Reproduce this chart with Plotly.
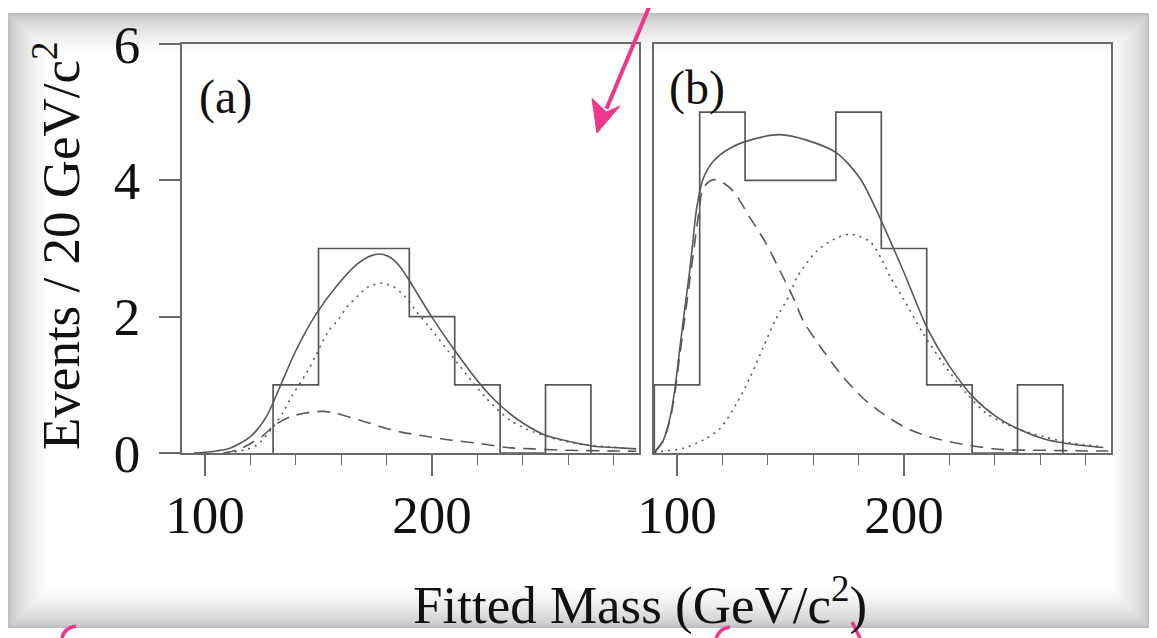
import plotly.graph_objects as go

# page is 1157x638; the html body has an 8px margin, so the figure is 8px smaller and
# every page-pixel position is shifted by that margin.
OFF = 8
W, H = 1157 - OFF, 638 - OFF

# ---------------- data ----------------
# histogram (a)
a_edges = [130, 150, 170, 190, 210, 230, 250, 270]
a_counts = [1, 3, 3, 2, 1, 0, 1]
# histogram (b)
b_edges = [90, 110, 130, 150, 170, 190, 210, 230, 250, 270]
b_counts = [1, 5, 4, 4, 5, 3, 1, 0, 1]

# fitted curves (a)
a_total_x = [95, 100, 105, 111, 120, 127, 133, 140, 149, 158, 167, 172, 177, 182, 186, 190, 200, 211, 221, 230, 240, 250, 261, 271, 280, 290]
a_total_y = [0.0, 0.01, 0.03, 0.07, 0.24, 0.53, 0.97, 1.50, 2.04, 2.45, 2.77, 2.88, 2.92, 2.86, 2.73, 2.53, 1.99, 1.46, 1.02, 0.70, 0.44, 0.26, 0.165, 0.10, 0.08, 0.06]
a_sig_x = [110, 118, 123, 130, 134.5, 138, 145, 148.5, 154, 159, 162.5, 167.5, 172, 178, 183, 188, 193, 199, 207, 215, 224, 234.4, 244.6, 256.4, 268, 286]
a_sig_y = [0.0, 0.05, 0.12, 0.38, 0.60, 0.82, 1.19, 1.41, 1.77, 1.97, 2.14, 2.31, 2.44, 2.49, 2.44, 2.30, 2.08, 1.84, 1.50, 1.16, 0.80, 0.48, 0.31, 0.19, 0.12, 0.07]
a_bkg_x = [108, 115, 120, 125.7, 130.8, 137.4, 144.8, 152, 158, 168.3, 177, 186, 194.7, 208, 221, 233, 244.5, 259, 281, 290]
a_bkg_y = [0.0, 0.05, 0.14, 0.26, 0.41, 0.53, 0.59, 0.61, 0.58, 0.48, 0.39, 0.31, 0.26, 0.19, 0.14, 0.08, 0.06, 0.04, 0.03, 0.025]

# fitted curves (b)
b_total_x = [90.3, 94, 97, 99, 101.3, 103.5, 105.5, 107, 108.7, 111.6, 116, 123.3, 132.2, 145.4, 157.1, 170.4, 180.6, 189.4, 199.7, 210.7, 220.3, 230.5, 240.8, 251.1, 261.4, 271.7, 287.8]
b_total_y = [0.02, 0.19, 0.53, 0.92, 1.55, 2.14, 2.65, 3.10, 3.60, 4.03, 4.28, 4.47, 4.59, 4.67, 4.59, 4.40, 4.03, 3.45, 2.67, 1.80, 1.26, 0.82, 0.53, 0.34, 0.21, 0.14, 0.08]
b_bkg_x = [90.3, 94, 97, 99, 101.3, 103.5, 105.5, 107.5, 109.5, 111.6, 116, 120, 124.8, 132.2, 139.5, 145.4, 151.2, 155.6, 164.4, 173.3, 182.1, 190.5, 202.6, 214.4, 229, 243.6, 261, 280.6, 290]
b_bkg_y = [0.02, 0.18, 0.50, 0.86, 1.45, 2.0, 2.5, 3.0, 3.5, 3.89, 4.01, 3.97, 3.84, 3.45, 3.06, 2.67, 2.28, 1.94, 1.50, 1.11, 0.80, 0.58, 0.34, 0.21, 0.11, 0.05, 0.04, 0.03, 0.03]
b_sig_x = [90, 92.5, 102.8, 111.6, 119, 126.3, 132.2, 138, 143.2, 149.8, 152.7, 161.5, 168.9, 176.2, 185, 190, 194, 199.7, 208.5, 217.3, 227.6, 236.4, 248.1, 261.4, 273.1, 287.8]
b_sig_y = [0.01, 0.02, 0.07, 0.19, 0.36, 0.73, 1.11, 1.55, 1.94, 2.33, 2.57, 2.96, 3.13, 3.21, 3.10, 2.85, 2.58, 2.26, 1.75, 1.31, 0.87, 0.58, 0.38, 0.24, 0.15, 0.09]

x_tick_vals = [100, 200]
x_tick_text = ["100", "200"]
y_tick_vals = [0, 2, 4, 6]
y_tick_text = ["0", "2", "4", "6"]
panel_labels = ["(a)", "(b)"]
x_title = "Fitted Mass (GeV/c<sup>2</sup>)"
y_title = "Events / 20 GeV/c<sup>2</sup>"

# ---------------- style ----------------
FONT = "Liberation Serif"
LINE = "#585858"
AXC = "#6a6a6a"
FS = 53


def px_x(p):
    return (p - OFF) / W


def px_y(p):
    return 1 - (p - OFF) / H


def step_xy(edges, counts):
    xs = [edges[0]] + list(edges)
    ys = [0] + list(counts) + [0]
    return xs, ys


fig = go.Figure()

for (edges, counts, xa, ya) in [(a_edges, a_counts, "x", "y"), (b_edges, b_counts, "x2", "y2")]:
    hx, hy = step_xy(edges, counts)
    fig.add_trace(go.Scatter(x=hx, y=hy, mode="lines", line=dict(color=LINE, width=1.7, shape="hv"),
                             xaxis=xa, yaxis=ya, showlegend=False, hoverinfo="skip"))

DASH = "13px,8px"
DOT = "2px,5px"
curves = [
    (a_total_x, a_total_y, "solid", "x", "y"),
    (a_sig_x, a_sig_y, DOT, "x", "y"),
    (a_bkg_x, a_bkg_y, DASH, "x", "y"),
    (b_total_x, b_total_y, "solid", "x2", "y2"),
    (b_sig_x, b_sig_y, DOT, "x2", "y2"),
    (b_bkg_x, b_bkg_y, DASH, "x2", "y2"),
]
for cx, cy, dash, xa, ya in curves:
    fig.add_trace(go.Scatter(x=cx, y=cy, mode="lines",
                             line=dict(color=LINE, width=1.6, dash=dash, shape="spline", smoothing=0.8),
                             xaxis=xa, yaxis=ya, showlegend=False, hoverinfo="skip"))

XR = [89.7, 291.0]
YR = [0, 6]
dom_a = [px_x(181.6), px_x(638.6)]
dom_b = [px_x(653.6), px_x(1110.6)]
dom_y = [px_y(453), px_y(44)]

xcommon = dict(range=XR, showline=True, linecolor=AXC, linewidth=1.7, mirror=True,
               ticks="outside", ticklen=21, tickwidth=1.5, tickcolor=AXC,
               tickvals=x_tick_vals, ticktext=x_tick_text,
               minor=dict(dtick=20, tick0=0, ticks="outside", ticklen=10, tickwidth=1.4, tickcolor=AXC),
               showgrid=False, zeroline=False, fixedrange=True, automargin=False,
               tickfont=dict(family=FONT, size=FS, color="#111"), ticklabelstandoff=-6)
ycommon = dict(range=YR, showline=True, linecolor=AXC, linewidth=1.7, mirror=True, automargin=False,
               showgrid=False, zeroline=False, fixedrange=True, domain=dom_y)

fig.update_layout(
    width=W, height=H, margin=dict(l=0, r=0, t=0, b=0, autoexpand=False),
    paper_bgcolor="white", plot_bgcolor="rgba(0,0,0,0)",
    xaxis=dict(domain=dom_a, anchor="y", **xcommon),
    xaxis2=dict(domain=dom_b, anchor="y2", **xcommon),
    yaxis=dict(anchor="x", ticks="outside", ticklen=21, tickwidth=1.5, tickcolor=AXC,
               tickvals=y_tick_vals, ticktext=y_tick_text,
               tickfont=dict(family=FONT, size=FS, color="#111"), ticklabelstandoff=8, **ycommon),
    yaxis2=dict(anchor="x2", ticks="", showticklabels=False, **ycommon),
)

# ------------- paper with shaded torn edge -------------
shapes = []
L, T, R, B = 8, 13, 1150, 628
n = 16
for i in range(n):
    f = i / (n - 1)
    g = int(192 + (255 - 192) * (f ** 0.6))
    inset = i * 2.6
    shapes.append(dict(type="rect", xref="paper", yref="paper", layer="below",
                       x0=px_x(L + inset), x1=px_x(R - inset), y0=px_y(B - inset), y1=px_y(T + inset),
                       line=dict(width=0), fillcolor=f"rgb({g},{g},{g})"))
# pink pen marks: arrow and small strokes at the bottom
PINK = "#f0358c"
tail = (652, 0)
head = (597, 133)
base = (606.5, 108.8)
shapes.append(dict(type="line", xref="paper", yref="paper",
                   x0=px_x(tail[0]), y0=px_y(tail[1]), x1=px_x(base[0]), y1=px_y(base[1]),
                   line=dict(color=PINK, width=4)))
tri = "M %f,%f L %f,%f L %f,%f L %f,%f Z" % (
    px_x(head[0]), px_y(head[1]), px_x(620), px_y(106),
    px_x(606.5), px_y(112), px_x(592), px_y(98.5))
shapes.append(dict(type="path", xref="paper", yref="paper", path=tri,
                   fillcolor=PINK, line=dict(color=PINK, width=1)))
for path in ["M %f,%f Q %f,%f %f,%f" % (px_x(62), px_y(638), px_x(64), px_y(628), px_x(76), px_y(626)),
             "M %f,%f Q %f,%f %f,%f" % (px_x(716), px_y(638), px_x(720), px_y(628), px_x(730), px_y(627)),
             "M %f,%f L %f,%f" % (px_x(852), px_y(622), px_x(860), px_y(638))]:
    shapes.append(dict(type="path", xref="paper", yref="paper", path=path,
                       line=dict(color=PINK, width=3.5)))
fig.update_layout(shapes=shapes)

annotations = [
    dict(text=panel_labels[0], x=px_x(225), y=px_y(97), xref="paper", yref="paper", showarrow=False,
         font=dict(family=FONT, size=48, color="#111"), xanchor="center", yanchor="middle"),
    dict(text=panel_labels[1], x=px_x(697), y=px_y(88), xref="paper", yref="paper", showarrow=False,
         font=dict(family=FONT, size=48, color="#111"), xanchor="center", yanchor="middle"),
    dict(text=x_title, x=px_x(640), y=px_y(601), xref="paper", yref="paper", showarrow=False,
         font=dict(family=FONT, size=FS, color="#111"), xanchor="center", yanchor="middle"),
    dict(text=y_title, x=px_x(57), y=px_y(246), xref="paper", yref="paper", showarrow=False, textangle=-90,
         font=dict(family=FONT, size=FS, color="#111"), xanchor="center", yanchor="middle"),
]
fig.update_layout(annotations=annotations)

fig.write_html("out.html")
